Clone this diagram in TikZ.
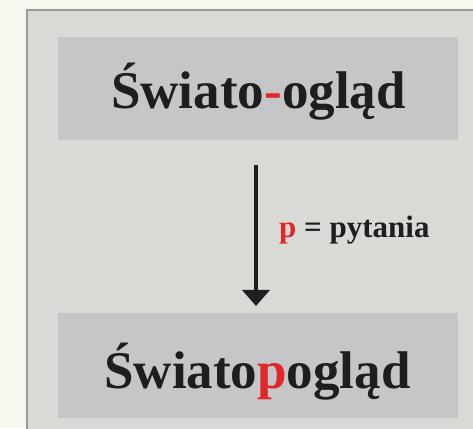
\documentclass[tikz,border=0pt]{standalone}
\usepackage{fontspec}
\setmainfont{Liberation Serif}
\usetikzlibrary{arrows.meta}
\definecolor{pagebg}{HTML}{F7F7F0}
\definecolor{panelfill}{HTML}{D9D9D6}
\definecolor{bandfill}{HTML}{C6C6C9}
\definecolor{panelborder}{HTML}{9A9A9A}
\definecolor{accent}{HTML}{E02828}
\definecolor{ink}{HTML}{1E1E1E}
\tikzset{
  band/.style={fill=bandfill, draw=none},
  bigword/.style={font=\fontsize{53}{60}\selectfont\bfseries, text=ink, inner sep=0pt, anchor=base},
  smallword/.style={font=\fontsize{31}{35}\selectfont\bfseries, text=ink, inner sep=0pt, anchor=base west},
  flow/.style={draw=ink, line width=3.6pt, -{Triangle[width=27pt,length=16pt]}}
}
\begin{document}
\begin{tikzpicture}[x=1pt,y=1pt]
\useasboundingbox (0,0) rectangle (473,428);
\fill[pagebg] (0,0) rectangle (473,428);
\draw[panelborder, line width=2pt, fill=panelfill] (27,-5) rectangle (480,418);
\fill[band] (58,288) rectangle (458,391);
\fill[band] (58,10) rectangle (458,115);
\node[bigword] (top) at (258.5,319) {Świato\textcolor{accent}{-}ogląd};
\node[bigword] (bottom) at (257.5,40) {Świato\textcolor{accent}{p}ogląd};
\node[smallword] (label) at (279,190) {\textcolor{accent}{p} = pytania};
\coordinate (a1) at (256,263);
\coordinate (a2) at (256,122);
\draw[flow] (a1) -- (a2);
\end{tikzpicture}
\end{document}
